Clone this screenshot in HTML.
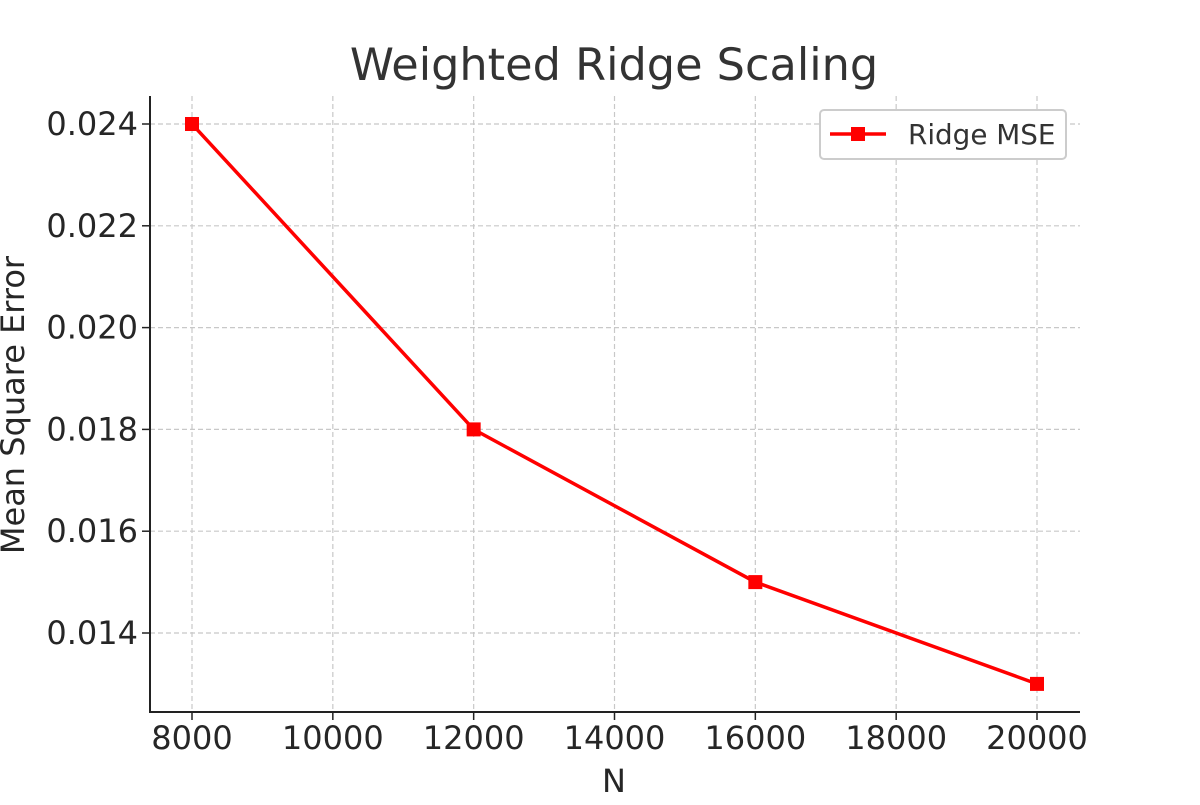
<!DOCTYPE html>
<html><head><meta charset="utf-8"><style>
body{margin:0;background:#fff}
svg text{font-family:"DejaVu Sans","Liberation Sans",sans-serif;fill:#262626}
</style></head><body>
<svg id="chart" width="1200" height="800">
<g id="grid"></g>
<g id="axes"></g>
<g id="series"></g>
<text x="614" y="80" font-size="44.6" text-anchor="middle" style="fill:#333">Weighted Ridge Scaling</text>
<text x="614" y="792" font-size="32" text-anchor="middle">N</text>
<text transform="translate(24,405) rotate(-90)" font-size="32" text-anchor="middle">Mean Square Error</text>
<g>
<rect x="820" y="110" width="246" height="49" rx="4" fill="#fff" stroke="#ccc" stroke-width="2"/>
<line x1="830" y1="134" x2="886" y2="134" stroke="#ff0000" stroke-width="3.5"/>
<rect x="851" y="127" width="14" height="14" fill="#ff0000"/>
<text x="908" y="144" font-size="27.8" style="fill:#333">Ridge MSE</text>
</g>
</svg>
<script>
const categories=[8000,12000,16000,20000];
const mseValues=[0.024,0.018,0.015,0.013];
const xTicks=[8000,10000,12000,14000,16000,18000,20000];
const yTicks=[0.014,0.016,0.018,0.020,0.022,0.024];
const NS="http://www.w3.org/2000/svg";
function xS(v){return 192+(v-8000)*(1037-192)/12000;}
function yS(v){return 124+(0.024-v)*(633-124)/0.010;}
function mk(t,a,p){const e=document.createElementNS(NS,t);for(const k in a)e.setAttribute(k,a[k]);p.appendChild(e);return e;}
const grid=document.getElementById('grid'),axes=document.getElementById('axes'),ser=document.getElementById('series');
xTicks.forEach(t=>{const x=xS(t);
const g=mk('line',{x1:x,x2:x,y1:96,y2:712,stroke:'#c8c8c8','stroke-width':1.2,'stroke-dasharray':'5,3'},grid);


const tk=mk('line',{x1:x,x2:x,y1:712,y2:720,stroke:'#222','stroke-width':1.5},axes);


const l=mk('text',{x:x,y:749,'font-size':32,'text-anchor':'middle'},axes);l.textContent=t;

});
yTicks.forEach(t=>{const y=yS(t);
const g=mk('line',{x1:150,x2:1080,y1:y,y2:y,stroke:'#c8c8c8','stroke-width':1.2,'stroke-dasharray':'5,3'},grid);


const tk=mk('line',{x1:142,x2:150,y1:y,y2:y,stroke:'#222','stroke-width':1.5},axes);


const l=mk('text',{x:138,y:y+11,'font-size':32,'text-anchor':'end'},axes);l.textContent=t.toFixed(3);

});
const sp=mk('path',{d:'M150 96 V712 H1080',fill:'none',stroke:'#222','stroke-width':2},axes);


const pl=mk('polyline',{points:categories.map((c,i)=>xS(c)+','+yS(mseValues[i])).join(' '),fill:'none',stroke:'#ff0000','stroke-width':3.5},ser);


categories.forEach((c,i)=>{const m=mk('rect',{x:xS(c)-7,y:yS(mseValues[i])-7,width:14,height:14,fill:'#ff0000'},ser);

});
</script>
</body></html>
